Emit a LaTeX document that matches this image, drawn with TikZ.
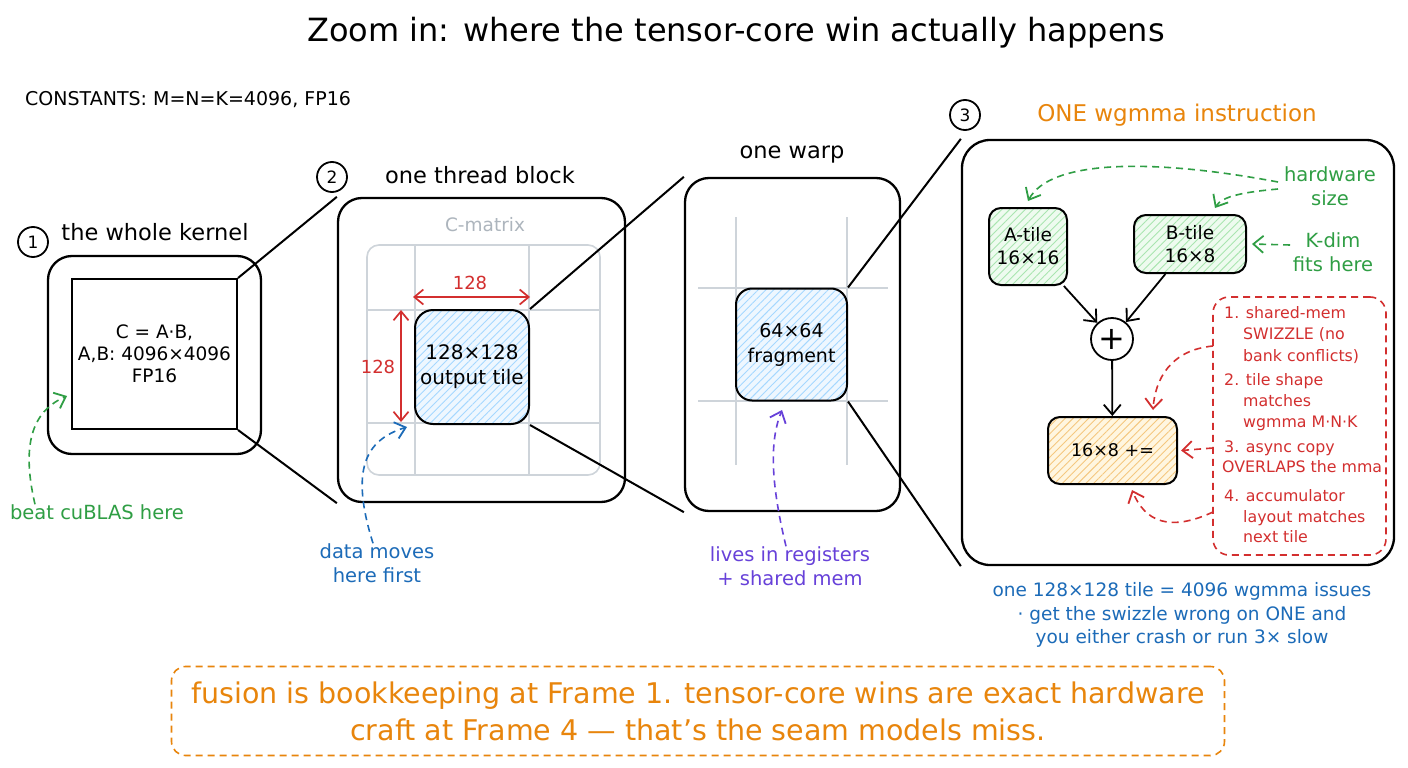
\documentclass[tikz,border=0pt]{standalone}
\usepackage{fontspec}
\setmainfont{DejaVu Sans}
\usetikzlibrary{arrows.meta,patterns.meta}
\definecolor{cgreen}{HTML}{2F9E44}
\definecolor{cred}{HTML}{D32F2F}
\definecolor{cblue}{HTML}{1C6BB8}
\definecolor{cpurple}{HTML}{6741D9}
\definecolor{corange}{HTML}{E8850C}
\definecolor{cgrid}{HTML}{CED4DA}
\definecolor{cgraytxt}{HTML}{ADB5BD}
\definecolor{bfill}{HTML}{EEF7FF}
\definecolor{bhatch}{HTML}{A5D8FF}
\definecolor{gfill}{HTML}{EEFBEF}
\definecolor{ghatch}{HTML}{A9E5B0}
\definecolor{ofill}{HTML}{FFF6E0}
\definecolor{ohatch}{HTML}{F5C77E}
\tikzset{
  frame/.style={draw, line width=2.3pt, rounded corners=24pt, inner sep=0pt},
  hdr/.style={inner sep=0pt, font=\fontsize{22.5}{27}\selectfont},
  numc/.style={draw, circle, line width=1.8pt, minimum size=30pt, inner sep=0pt, font=\fontsize{17}{19}\selectfont},
  note/.style={inner sep=0pt, align=center, font=\fontsize{19.5}{24}\selectfont},
  gridl/.style={draw=cgrid, line width=1.6pt},
  zoomline/.style={line width=2pt},
  hatchB/.style={draw, line width=2pt, preaction={fill=bfill}, preaction={pattern={Lines[angle=45,distance=5.5pt,line width=0.9pt]}, pattern color=bhatch}},
  hatchG/.style={draw, line width=2pt, preaction={fill=gfill}, preaction={pattern={Lines[angle=45,distance=5.5pt,line width=0.9pt]}, pattern color=ghatch}},
  hatchO/.style={draw, line width=2pt, preaction={fill=ofill}, preaction={pattern={Lines[angle=45,distance=5.5pt,line width=0.9pt]}, pattern color=ohatch}},
  arr/.style={line width=1.8pt, -{Straight Barb[length=10pt,width=17pt,line width=1.8pt]}},
  darr/.style={arr, line width=1.6pt, dash pattern=on 7pt off 5pt},
  dimarr/.style={line width=1.7pt, draw=cred, {Straight Barb[length=9pt,width=15pt,line width=1.7pt]}-{Straight Barb[length=9pt,width=15pt,line width=1.7pt]}},
  redtxt/.style={inner sep=0pt, anchor=base west, text=cred, font=\fontsize{15.8}{21}\selectfont},
}
\begin{document}
\begin{tikzpicture}[x=1pt,y=-1pt]
\useasboundingbox (0,0) rectangle (1408,768);
\fill[white] (0,0) rectangle (1408,768);

% title and constants
\node[inner sep=0pt, font=\fontsize{32}{38}\selectfont] (title) at (736,33) {Zoom in: where the tensor-core win actually happens};
\node[inner sep=0pt, anchor=west, font=\fontsize{19}{22}\selectfont] (const) at (25,100) {CONSTANTS: M=N=K=4096, FP16};

% ---------- frame 1
\node[numc] (n1) at (33,242) {1};
\node[hdr] (h1) at (155,232) {the whole kernel};
\node[frame, minimum width=213pt, minimum height=198pt] (f1) at (154.5,355) {};
\node[draw, line width=2pt, minimum width=165pt, minimum height=150pt, inner sep=0pt, align=center, font=\fontsize{18.5}{22}\selectfont] (k) at (154.5,354) {C = A·B,\\A,B: 4096×4096\\FP16};
\node[note, text=cgreen] (beat) at (97,512) {beat cuBLAS here};
\coordinate (beatTip) at (67,396);
\draw[darr, draw=cgreen] ([xshift=-62pt]beat.north) .. controls (20,440) and (35,410) .. (beatTip);

% ---------- frame 2
\node[numc] (n2) at (332,177) {2};
\node[hdr] (h2) at (480,175) {one thread block};
\node[frame, minimum width=287pt, minimum height=304pt] (f2) at (481.5,350) {};
\node[inner sep=0pt, text=cgraytxt, font=\fontsize{18.5}{22}\selectfont] (cm) at (485,225) {C-matrix};
\draw[gridl, rounded corners=12pt] (367,245) rectangle (600,475);
\draw[gridl] (415,245) -- (415,475) (529,245) -- (529,475) (367,310) -- (600,310) (367,423) -- (600,423);
\node[hatchB, rounded corners=18pt, minimum width=114pt, minimum height=114pt, align=center, font=\fontsize{20}{25}\selectfont] (t2) at (472,367) {128×128\\output tile};
\coordinate (hA) at (413,297);
\coordinate (hB) at (530,297);
\coordinate (vA) at (401,310);
\coordinate (vB) at (401,422);
\draw[dimarr] (hA) -- (hB);
\draw[dimarr] (vA) -- (vB);
\node[inner sep=0pt, text=cred, font=\fontsize{18}{20}\selectfont] (l128h) at (470,283) {128};
\node[inner sep=0pt, text=cred, font=\fontsize{18}{20}\selectfont] (l128v) at (378,367) {128};
\node[note, text=cblue] (data) at (377,563) {data moves\\here first};
\coordinate (dataTip) at (407,427);
\draw[darr, draw=cblue] ([xshift=-4pt]data.north) .. controls (350,470) and (365,440) .. (dataTip);

% ---------- frame 3
\node[hdr] (h3) at (792,155) {one warp};
\node[frame, minimum width=215pt, minimum height=333pt] (f3) at (792.5,344.5) {};
\draw[gridl] (736,217) -- (736,465) (847,217) -- (847,465) (698,288) -- (888,288) (698,401) -- (888,401);
\node[hatchB, rounded corners=16pt, minimum width=111pt, minimum height=112pt, align=center, font=\fontsize{19}{25}\selectfont] (frag) at (791.5,344.5) {64×64\\fragment};
\node[note, text=cpurple] (lives) at (790,566) {lives in registers\\+ shared mem};
\coordinate (livesTip) at (782,410);
\draw[darr, draw=cpurple] ([xshift=-4pt]lives.north) .. controls (770,480) and (770,440) .. (livesTip);

% ---------- frame 4
\node[numc] (n3) at (965,115) {3};
\node[inner sep=0pt, text=corange, font=\fontsize{23}{27}\selectfont] (h4) at (1177,115) {ONE wgmma instruction};
\node[frame, rounded corners=28pt, minimum width=432pt, minimum height=425pt] (f4) at (1178,352.5) {};
\node[hatchG, rounded corners=12pt, minimum width=78pt, minimum height=77pt, align=center, font=\fontsize{18.5}{23}\selectfont] (A) at (1028,246.5) {A-tile\\16×16};
\node[hatchG, rounded corners=12pt, minimum width=112pt, minimum height=58pt, align=center, font=\fontsize{18.5}{23}\selectfont] (B) at (1190,244) {B-tile\\16×8};
\node[draw, circle, line width=1.8pt, minimum size=42pt, inner sep=0pt, font=\fontsize{32}{32}\selectfont] (plus) at (1112,339) {+};
\node[hatchO, rounded corners=12pt, minimum width=129pt, minimum height=67pt, font=\fontsize{17.5}{20}\selectfont] (acc) at (1112.5,450.5) {16×8 +=};
\draw[arr] (A) -- (plus);
\draw[arr] (B) -- (plus);
\draw[arr] (plus) -- (acc);

% green notes
\node[note, text=cgreen] (hw) at (1330,186) {hardware\\size};
\node[note, text=cgreen] (kd) at (1333,252) {K-dim\\fits here};
\coordinate (hwS1) at (1278,182);
\coordinate (hwS2) at (1278,189);
\coordinate (kdS) at (1290,245);
\draw[darr, draw=cgreen] (hwS1) .. controls (1150,158) and (1050,160) .. ([yshift=6pt]A.north);
\draw[darr, draw=cgreen] (hwS2) .. controls (1245,192) and (1222,196) .. ([xshift=25pt,yshift=6pt]B.north);
\draw[darr, draw=cgreen] (kdS) -- ([xshift=5pt]B.east);

% red notes box
\node[draw=cred, dash pattern=on 7pt off 5pt, line width=1.6pt, rounded corners=16pt, minimum width=173pt, minimum height=258pt, inner sep=0pt] (notes) at (1299.5,426) {};
\foreach \x/\y/\t [count=\i] in {1224/318/1. shared-mem, 1243/339/SWIZZLE (no, 1243/361/bank conflicts), 1224/385/2. tile shape, 1243/406/matches, 1243/427/wgmma M·N·K, 1224/452/3. async copy, 1222/472/OVERLAPS the mma, 1224/501/4. accumulator, 1243/522/layout matches, 1243/542/next tile}
  \node[redtxt] (r\i) at (\x,\y) {\t};
\coordinate (s1) at (1213,346);
\coordinate (s3) at (1213,448);
\coordinate (s4) at (1213,512);
\coordinate (e1) at (1153,410);
\coordinate (e4) at (1132,490);
\draw[darr, draw=cred] (s1) .. controls (1170,350) and (1155,380) .. (e1);
\draw[darr, draw=cred] (s3) -- ([xshift=3pt]acc.east);
\draw[darr, draw=cred] (s4) .. controls (1170,532) and (1145,522) .. (e4);

% blue bottom note
\node[inner sep=0pt, align=center, text=cblue, font=\fontsize{18.5}{23.5}\selectfont] (issues) at (1182,615) {one 128×128 tile = 4096 wgmma issues\\· get the swizzle wrong on ONE and\\you either crash or run 3× slow};

% zoom lines
\draw[zoomline] (k.north east) -- (f2.north west);
\draw[zoomline] (k.south east) -- (f2.south west);
\draw[zoomline] (t2.north east) -- (f3.north west);
\draw[zoomline] (t2.south east) -- (f3.south west);
\draw[zoomline] (frag.north east) -- (f4.north west);
\draw[zoomline] (frag.south east) -- (f4.south west);

% bottom box
\node[draw=corange, dash pattern=on 7pt off 5pt, line width=1.6pt, rounded corners=14pt, minimum width=1053pt, minimum height=89pt, text=corange, align=center, font=\fontsize{28.5}{37}\selectfont] (bottom) at (698,711) {fusion is bookkeeping at Frame 1. tensor-core wins are exact hardware\\craft at Frame 4 — that’s the seam models miss.};
\end{tikzpicture}
\end{document}
